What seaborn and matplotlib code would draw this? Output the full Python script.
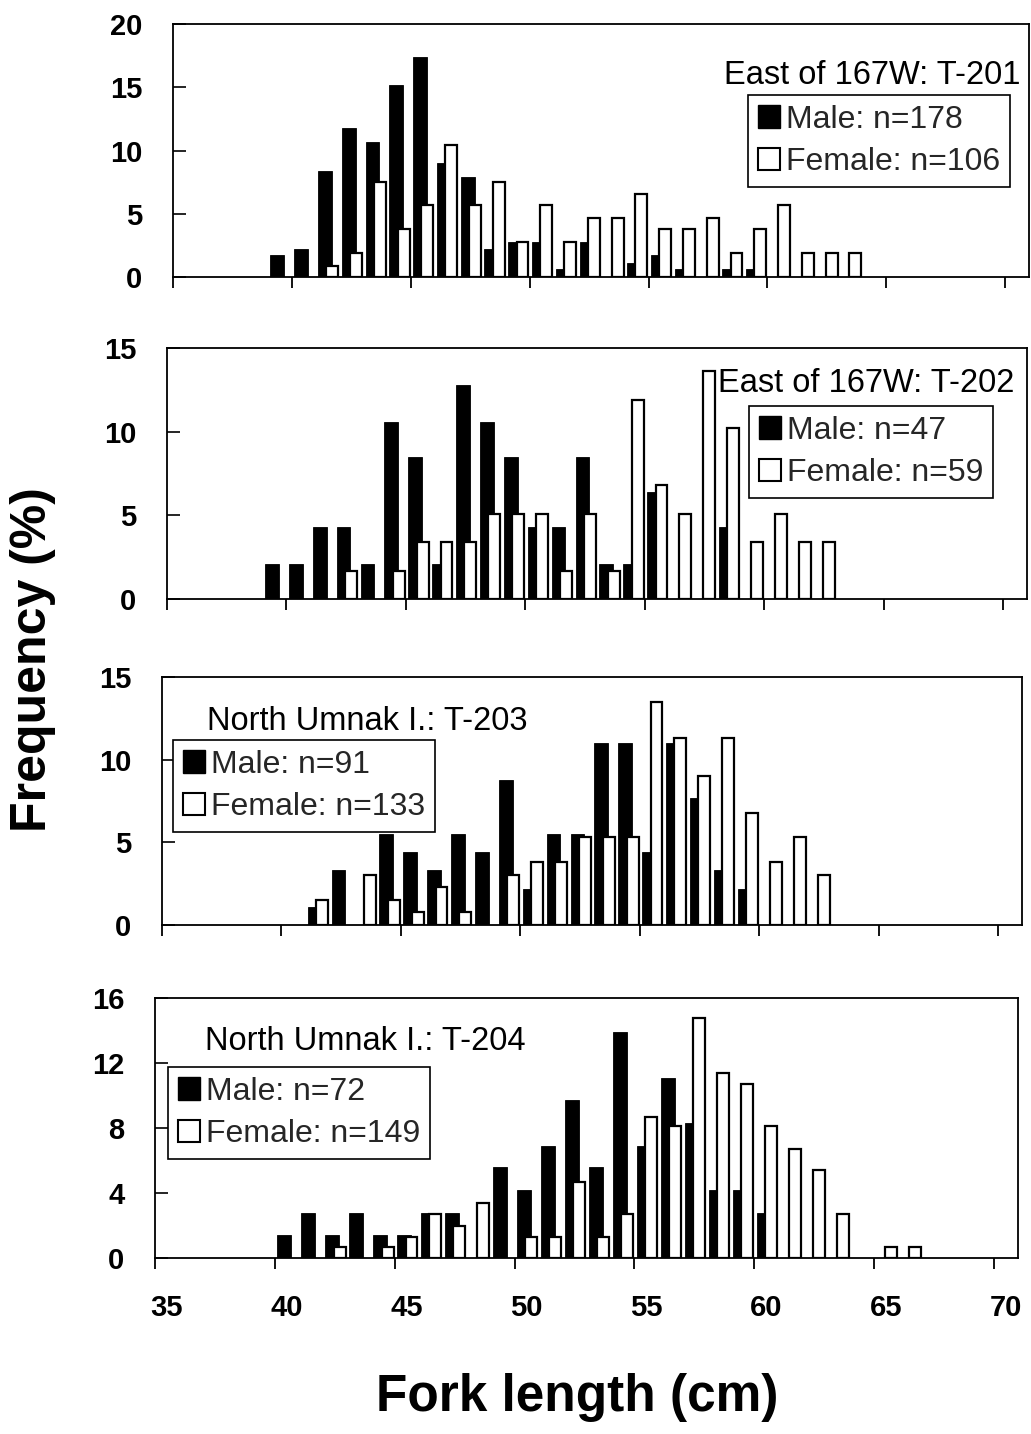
import matplotlib
matplotlib.use("Agg")
import matplotlib.pyplot as plt
from matplotlib.patches import Patch
import seaborn as sns
import pandas as pd

# ---------------- data (percent frequency per 1-cm fork-length bin) ----------------
bins = [39, 40, 41, 42, 43, 44, 45, 46, 47, 48, 49, 50, 51, 52,
        53, 54, 55, 56, 57, 58, 59, 60, 61, 62, 63, 64, 65, 66]

male_t201 = [1.7, 2.2, 8.4, 11.8, 10.7, 15.2, 17.4, 9.0, 7.9, 2.2, 2.8, 2.8, 0.6, 2.8,
             0, 1.1, 1.7, 0.6, 0, 0.6, 0.6, 0, 0, 0, 0, 0, 0, 0]
female_t201 = [0, 0, 0.9, 1.9, 7.5, 3.8, 5.7, 10.4, 5.7, 7.5, 2.8, 5.7, 2.8, 4.7,
               4.7, 6.6, 3.8, 3.8, 4.7, 1.9, 3.8, 5.7, 1.9, 1.9, 1.9, 0, 0, 0]

male_t202 = [2.1, 2.1, 4.3, 4.3, 2.1, 10.6, 8.5, 2.1, 12.8, 10.6, 8.5, 4.3, 4.3, 8.5,
             2.1, 2.1, 6.4, 0, 0, 4.3, 0, 0, 0, 0, 0, 0, 0, 0]
female_t202 = [0, 0, 0, 1.7, 0, 1.7, 3.4, 3.4, 3.4, 5.1, 5.1, 5.1, 1.7, 5.1,
               1.7, 11.9, 6.8, 5.1, 13.6, 10.2, 3.4, 5.1, 3.4, 3.4, 0, 0, 0, 0]

male_t203 = [0, 0, 1.1, 3.3, 0, 5.5, 4.4, 3.3, 5.5, 4.4, 8.8, 2.2, 5.5, 5.5,
             11.0, 11.0, 4.4, 11.0, 7.7, 3.3, 2.2, 0, 0, 0, 0, 0, 0, 0]
female_t203 = [0, 0, 1.5, 0, 3.0, 1.5, 0.8, 2.3, 0.8, 0, 3.0, 3.8, 3.8, 5.3,
               5.3, 5.3, 13.5, 11.3, 9.0, 11.3, 6.8, 3.8, 5.3, 3.0, 0, 0, 0, 0]

male_t204 = [0, 1.4, 2.8, 1.4, 2.8, 1.4, 1.4, 2.8, 2.8, 0, 5.6, 4.2, 6.9, 9.7,
             5.6, 13.9, 6.9, 11.1, 8.3, 4.2, 4.2, 2.8, 0, 0, 0, 0, 0, 0]
female_t204 = [0, 0, 0, 0.7, 0, 0.7, 1.3, 2.7, 2.0, 3.4, 0, 1.3, 1.3, 4.7,
               1.3, 2.7, 8.7, 8.1, 14.8, 11.4, 10.7, 8.1, 6.7, 5.4, 2.7, 0, 0.7, 0.7]

titles = ["East of 167W: T-201", "East of 167W: T-202",
          "North Umnak I.: T-203", "North Umnak I.: T-204"]
male_labels = ["Male: n=178", "Male: n=47", "Male: n=91", "Male: n=72"]
female_labels = ["Female: n=106", "Female: n=59", "Female: n=133", "Female: n=149"]
y_maxes = [20, 15, 15, 16]
y_ticks = [[0, 5, 10, 15, 20], [0, 5, 10, 15], [0, 5, 10, 15], [0, 4, 8, 12, 16]]
x_tick_labels = ["35", "40", "45", "50", "55", "60", "65", "70"]

male_series = [male_t201, male_t202, male_t203, male_t204]
female_series = [female_t201, female_t202, female_t203, female_t204]

# ---------------- style ----------------
sns.set_style("white")
plt.rcParams["font.family"] = ["Liberation Sans", "DejaVu Sans"]
plt.rcParams["axes.linewidth"] = 1.3

W, H = 1031, 1434
fig = plt.figure(figsize=(W / 100, H / 100), dpi=100)


def fx(px):
    return px / W


def fy(py):
    return 1 - py / H


# panel boxes in pixels: left, right, top, bottom
boxes = [(173, 1029, 24, 277), (167, 1027, 348, 599),
         (162, 1022, 677, 925), (155, 1018, 998, 1258)]
# title (x, y, ha) and legend upper-left anchor
title_pos = [(1021, 75, "right"), (1014, 383, "right"),
             (207, 722, "left"), (205, 1041, "left")]
legend_pos = [(748, 95), (749, 406), (173, 740), (168, 1067)]

MALE_OFF, MALE_W = 0.39, 0.58
FEM_OFF, FEM_W = 0.70, 0.50

for i in range(4):
    L, R, T, B = boxes[i]
    ax = fig.add_axes([fx(L), fy(B), (R - L) / W, (B - T) / H])

    df = pd.DataFrame({"bin": bins, "male": male_series[i], "female": female_series[i]})
    dm = df[df["male"] > 0].copy()
    dm["pos"] = dm["bin"] + MALE_OFF
    dfm = df[df["female"] > 0].copy()
    dfm["pos"] = dfm["bin"] + FEM_OFF

    sns.barplot(data=dm, x="pos", y="male", native_scale=True, width=MALE_W,
                color="black", edgecolor="black", linewidth=0.6, saturation=1,
                errorbar=None, ax=ax, zorder=2)
    sns.barplot(data=dfm, x="pos", y="female", native_scale=True, width=FEM_W,
                color="white", edgecolor="black", linewidth=1.6, saturation=1,
                errorbar=None, ax=ax, zorder=3)

    ax.set_xlim(35, 71)
    ax.set_ylim(0, y_maxes[i])
    ax.set_yticks(y_ticks[i])
    ax.set_yticklabels([str(v) for v in y_ticks[i]], fontsize=21, fontweight="bold")
    ax.tick_params(axis="y", direction="in", length=9, width=1.2, pad=22,
                   left=True, colors="black")

    # tick marks at every 5 cm, labels centred on the bins
    ax.set_xticks([35, 40, 45, 50, 55, 60, 65, 70], minor=True)
    ax.tick_params(axis="x", which="minor", direction="out", length=8, width=1.3,
                   bottom=True, colors="black")
    ax.set_xticks([35.5, 40.5, 45.5, 50.5, 55.5, 60.5, 65.5, 70.5])
    if i == 3:
        ax.set_xticklabels(x_tick_labels, fontsize=21, fontweight="bold")
    else:
        ax.set_xticklabels([])
    ax.tick_params(axis="x", which="major", length=0, pad=26, colors="black")
    ax.set_xlabel("")
    ax.set_ylabel("")
    for s in ax.spines.values():
        s.set_visible(True)
        s.set_color("black")
        s.set_linewidth(1.3)

    tx, ty, ha = title_pos[i]
    fig.text(fx(tx), fy(ty), titles[i], ha=ha, va="center", fontsize=23.5,
             color="black", zorder=10)

    handles = [Patch(facecolor="black", edgecolor="black", linewidth=1.0),
               Patch(facecolor="white", edgecolor="black", linewidth=1.5)]
    lx, ly = legend_pos[i]
    leg = ax.legend(handles, [male_labels[i], female_labels[i]],
                    loc="upper left", bbox_to_anchor=(fx(lx), fy(ly)),
                    bbox_transform=fig.transFigure, fontsize=23,
                    frameon=True, fancybox=False, shadow=False,
                    handlelength=0.7, handleheight=0.7, handletextpad=0.2,
                    borderpad=0.3, labelspacing=0.4, borderaxespad=0)
    leg.get_frame().set_edgecolor("black")
    leg.get_frame().set_linewidth(1.2)
    leg.get_frame().set_alpha(1)
    leg.set_zorder(10)

fig.text(fx(33), fy(660), "Frequency (%)", rotation=90, ha="center", va="center",
         fontsize=36, fontweight="bold", color="black")
fig.text(fx(577), fy(1397), "Fork length (cm)", ha="center", va="center",
         fontsize=37, fontweight="bold", color="black")

fig.savefig("out.png", dpi=100, facecolor="white")
